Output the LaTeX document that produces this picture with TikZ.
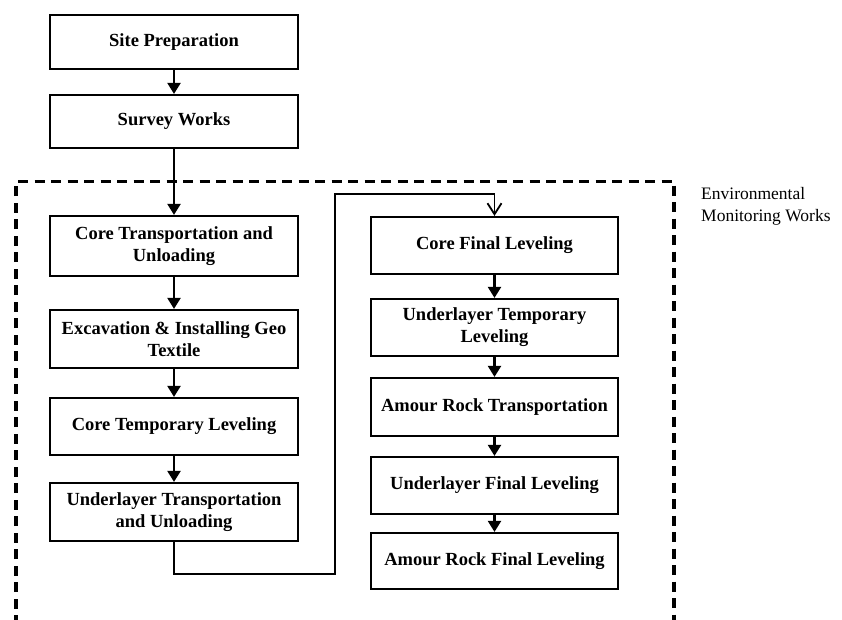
\documentclass[tikz,border=0pt]{standalone}
\usepackage{fontspec}
\setmainfont{Liberation Serif}
\usetikzlibrary{arrows.meta}
\begin{document}
\begin{tikzpicture}[x=1pt,y=-1pt,
  stepbox/.style={draw,line width=2.2pt,minimum width=248pt,align=center,
    font=\fontsize{18.5}{22}\selectfont\bfseries,inner sep=2pt},
  flow/.style={line width=2.2pt,-{Triangle[length=11pt,width=13pt]}},
  loop/.style={line width=1.7pt,-{Straight Barb[length=11pt,width=14pt,line width=1.8pt]}},
  envtext/.style={align=left,anchor=north west,inner sep=0pt,
    font=\fontsize{17.5}{22}\selectfont}]
\useasboundingbox (0,0) rectangle (842,619);
% dashed frame
\draw[line width=3.2pt,dash pattern=on 10pt off 6.5pt] (16,625) -- (16,181.5) -- (674,181.5) -- (674,625);
\node[envtext] (env) at (701,187) {Environmental\\Monitoring Works};
% left column
\node[stepbox,minimum height=54pt] (sp) at (174,42) {Site Preparation};
\node[stepbox,minimum height=53pt] (sw) at (174,121.5) {Survey Works};
\node[stepbox,minimum height=60pt] (ct) at (174,246) {Core Transportation and\\Unloading};
\node[stepbox,minimum height=58pt] (ex) at (174,339) {Excavation \& Installing Geo\\Textile};
\node[stepbox,minimum height=57pt] (ctl) at (174,426.5) {Core Temporary Leveling};
\node[stepbox,minimum height=58pt] (ut) at (174,512) {Underlayer Transportation\\and Unloading};
% right column
\node[stepbox,minimum width=247pt,minimum height=57pt] (cfl) at (494.5,245.5) {Core Final Leveling};
\node[stepbox,minimum width=247pt,minimum height=57pt] (utl) at (494.5,327.5) {Underlayer Temporary\\Leveling};
\node[stepbox,minimum width=247pt,minimum height=58pt] (art) at (494.5,407) {Amour Rock Transportation};
\node[stepbox,minimum width=247pt,minimum height=57pt] (ufl) at (494.5,485.5) {Underlayer Final Leveling};
\node[stepbox,minimum width=247pt,minimum height=56pt] (arf) at (494.5,561) {Amour Rock Final Leveling};
% connectors
\draw[flow] (sp) -- (sw);
\draw[flow] (sw) -- (ct);
\draw[flow] (ct) -- (ex);
\draw[flow] (ex) -- (ctl);
\draw[flow] (ctl) -- (ut);
\coordinate (c1) at (174,574);
\coordinate (c2) at (335,574);
\coordinate (c3) at (335,194);
\coordinate (c4) at (494.5,194);
\draw[loop] (ut.south) -- (c1) -- (c2) -- (c3) -- (c4) -- (cfl.north);
\draw[flow] (cfl) -- (utl);
\draw[flow] (utl) -- (art);
\draw[flow] (art) -- (ufl);
\draw[flow] (ufl) -- (arf);
\end{tikzpicture}
\end{document}
